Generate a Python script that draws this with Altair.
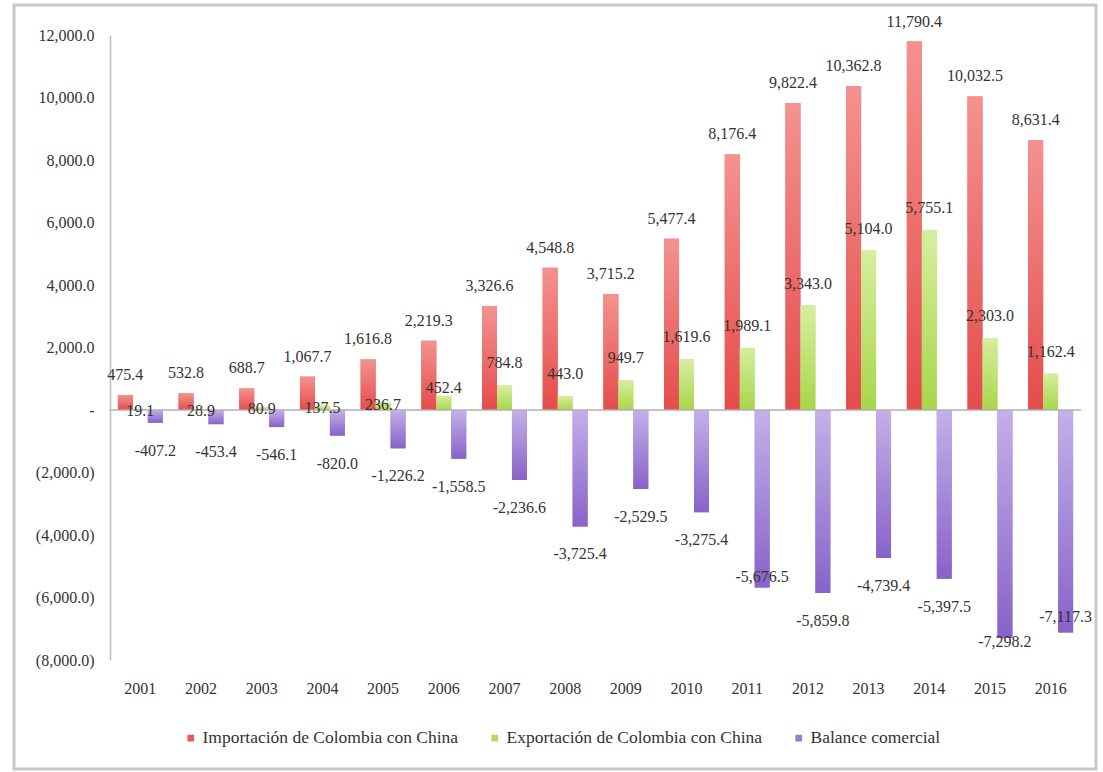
import altair as alt
import pandas as pd

years = [str(y) for y in range(2001, 2017)]
importacion = [475.4, 532.8, 688.7, 1067.7, 1616.8, 2219.3, 3326.6, 4548.8,
               3715.2, 5477.4, 8176.4, 9822.4, 10362.8, 11790.4, 10032.5, 8631.4]
exportacion = [19.1, 28.9, 80.9, 137.5, 236.7, 452.4, 784.8, 443.0,
               949.7, 1619.6, 1989.1, 3343.0, 5104.0, 5755.1, 2303.0, 1162.4]
balance = [-407.2, -453.4, -546.1, -820.0, -1226.2, -1558.5, -2236.6, -3725.4,
           -2529.5, -3275.4, -5676.5, -5859.8, -4739.4, -5397.5, -7298.2, -7117.3]

series_names = ["Importación de Colombia con China",
                "Exportación de Colombia con China",
                "Balance comercial"]
IMP, EXP, BAL = series_names
series_colors = ["#e85b5a", "#b4dc5a", "#9a7ad2"]
gradients = [
    {"gradient": "linear", "x1": 0, "y1": 0, "x2": 0, "y2": 1,
     "stops": [{"offset": 0, "color": "#f4928f"}, {"offset": 1, "color": "#e44c4b"}]},
    {"gradient": "linear", "x1": 0, "y1": 0, "x2": 0, "y2": 1,
     "stops": [{"offset": 0, "color": "#d6eea0"}, {"offset": 1, "color": "#a8d64a"}]},
    {"gradient": "linear", "x1": 0, "y1": 0, "x2": 0, "y2": 1,
     "stops": [{"offset": 0, "color": "#c4b0ea"}, {"offset": 1, "color": "#8862c8"}]},
]

rows = []
for vals, name in zip([importacion, exportacion, balance], series_names):
    for y, v in zip(years, vals):
        rows.append({"year": y, "serie": name, "valor": v})
df = pd.DataFrame(rows)
df["etiqueta"] = df["valor"].map(lambda v: f"{v:,.1f}")

FONT = "Liberation Serif"
TXT = "#333333"

x_enc = alt.X("year:N", title=None, sort=years,
              scale=alt.Scale(paddingInner=0.26, paddingOuter=0.13),
              axis=alt.Axis(domain=False, ticks=False, labelAngle=0, labelPadding=20,
                            labelFont=FONT, labelFontSize=16, labelColor=TXT))
xoff = alt.XOffset("serie:N", sort=series_names, scale=alt.Scale(paddingInner=0, paddingOuter=0))
y_scale = alt.Scale(domain=[-8000, 12000], nice=False)
y_enc = alt.Y("valor:Q", title=None, scale=y_scale,
              axis=alt.Axis(values=list(range(-8000, 12001, 2000)), grid=False, ticks=False,
                            domainColor="#bdbdbd", domainWidth=1.5, labelPadding=16,
                            labelFont=FONT, labelFontSize=16, labelColor=TXT,
                            labelExpr="datum.value > 0 ? format(datum.value, ',.1f') : "
                                      "(datum.value == 0 ? '-' : '(' + format(-datum.value, ',.1f') + ')')"))

base = alt.Chart(df)

legend_bars = base.mark_bar().encode(
    x=x_enc, xOffset=xoff, y=y_enc,
    color=alt.Color("serie:N", sort=series_names,
                    scale=alt.Scale(domain=series_names, range=series_colors),
                    legend=alt.Legend(title=None, orient="none", direction="horizontal",
                                      legendX=72, legendY=694, padding=0, symbolType="square",
                                      symbolSize=45, labelFont=FONT, labelFontSize=17.5,
                                      labelColor=TXT, labelLimit=0, labelOffset=3,
                                      columnPadding=27, symbolStrokeWidth=0)),
)

grad_layers = [
    base.transform_filter(alt.datum.serie == name).mark_bar(fill=g).encode(
        x=x_enc, xOffset=xoff, y=y_enc)
    for name, g in zip(series_names, gradients)
]

zero_line = alt.Chart(pd.DataFrame({"cero": [0]})).mark_rule(
    color="#b0b0b0", strokeWidth=1.5).encode(y=alt.Y("cero:Q", scale=y_scale))

# value labels: (filter, vertical nudge in px); labels that would collide
# with the zero line or the axis are nudged individually
small_exp = (alt.datum.serie == EXP) & (alt.datum.valor < 300)
label_rules = [
    (alt.datum.serie == IMP, -20),
    ((alt.datum.serie == EXP) & (alt.datum.valor >= 300) & (alt.datum.year != "2006"), -22),
    (small_exp, 2),
    ((alt.datum.serie == EXP) & (alt.datum.year == "2006"), -8),
    ((alt.datum.serie == BAL) & (alt.datum.year != "2011") & (alt.datum.year != "2015")
     & (alt.datum.year != "2016"), 28),
    ((alt.datum.serie == BAL) & (alt.datum.year == "2011"), -10),
    ((alt.datum.serie == BAL) & (alt.datum.year == "2015"), 4),
    ((alt.datum.serie == BAL) & (alt.datum.year == "2016"), -15),
]
label_layers = [
    base.transform_filter(cond).mark_text(
        baseline="middle", dy=dy, font=FONT, fontSize=16, color=TXT).encode(
        x=x_enc, xOffset=xoff, y=y_enc, text="etiqueta:N")
    for cond, dy in label_rules
]

frame = alt.Chart(pd.DataFrame({"k": [0]})).mark_rect(
    fill=None, stroke="#c8c8c8", strokeWidth=3).encode(
    x=alt.value(-96), x2=alt.value(986), y=alt.value(-30), y2=alt.value(734))

chart = alt.layer(frame, legend_bars, *grad_layers, zero_line, *label_layers).properties(
    width=971, height=625,
    padding={"left": 110, "top": 35, "right": 22, "bottom": 112},
    autosize=alt.AutoSizeParams(type="none"),
    background="white",
).configure_view(stroke=None)

chart.save("out.html", embed_options={"renderer": "svg", "actions": False})
